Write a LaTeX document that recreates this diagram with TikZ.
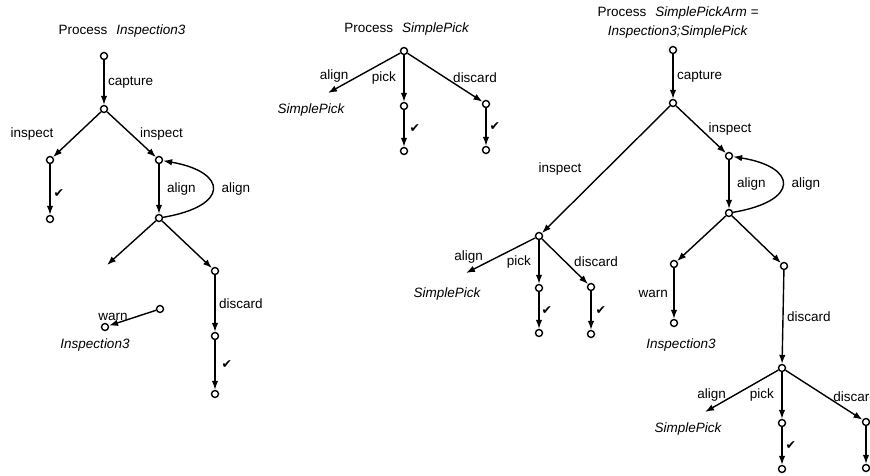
\documentclass[tikz,border=0pt]{standalone}
\usepackage{fontspec}
\setmainfont{Liberation Sans}
\newfontfamily\symfont{DejaVu Sans}
\usetikzlibrary{arrows.meta}

\newcommand{\chk}{{\symfont\fontsize{12.5}{12.5}\selectfont ✔}}

\begin{document}
\begin{tikzpicture}[x=1pt, y=-1pt]
    \tikzstyle{state} = [ shape=circle, draw=black, fill=white, line width=1.4pt, inner sep=0pt, minimum size=7pt ];
    \tikzstyle{arr} = [ -{Latex[length=9pt,width=6.5pt]}, line width=1.4pt ];
    \tikzstyle{lbl} = [ font=\fontsize{13.5}{16}\selectfont ];
    \tikzstyle{procname} = [ font=\fontsize{13.5}{16}\selectfont\itshape ];
    \tikzstyle{tick} = [ inner sep=1pt ];

    \useasboundingbox (0,0) rectangle (870,476);

    % process Inspection3
    \node (tInsp) [lbl] at (122,31) {Process\hspace{9pt}\textit{Inspection3}};
    \node (nInspA) [state] at (104,56) {};
    \node (nInspB) [state] at (104,109) {};
    \node (nInspC) [state] at (50,160) {};
    \node (nInspD) [state] at (159,160) {};
    \node (nInspE) [state] at (50,219) {};
    \node (nInspF) [state] at (159,218) {};
    \coordinate (cInspOpen) at (107,265);
    \node (nInspG) [state] at (215,271) {};
    \node (nInspH) [state] at (215,336) {};
    \node (nInspI) [state] at (215,394) {};
    \node (nInspWarnA) [state] at (160,309) {};
    \node (nInspWarnB) [state] at (105,327) {};
    \node (tInspName) [procname] at (95,345) {Inspection3};

    \draw [arr] (nInspA) -- (nInspB) node [lbl, midway, right] {capture};
    \draw [arr] (nInspB) -- (nInspC) node [lbl, midway, xshift=-45pt] {inspect};
    \draw [arr] (nInspB) -- (nInspD) node [lbl, midway, xshift=30pt] {inspect};
    \draw [arr] (nInspC) -- (nInspE) node [tick, midway, right=2pt, yshift=-4pt] {\chk};
    \draw [arr] (nInspD) -- (nInspF) node [lbl, midway, right=4pt] {align};
    \draw [arr] (nInspF) .. controls (230,206) and (228,172) .. (nInspD) node [lbl, midway, right=5pt] {align};
    \draw [arr] (nInspF) -- (cInspOpen);
    \draw [arr] (nInspF) -- (nInspG);
    \draw [arr] (nInspG) -- (nInspH) node [lbl, midway, right] {discard};
    \draw [arr] (nInspH) -- (nInspI) node [tick, midway, right=5pt] {\chk};
    \draw [arr] (nInspWarnA) -- (nInspWarnB) node [lbl, pos=0.85, xshift=-3pt, yshift=6pt] {warn};

    % process SimplePick
    \node (tPick) [lbl] at (407,29) {Process\hspace{9pt}\textit{SimplePick}};
    \node (nPickA) [state] at (404,51) {};
    \node (nPickB) [state] at (404,106) {};
    \node (nPickC) [state] at (404,151) {};
    \node (nPickD) [state] at (486,104) {};
    \node (nPickE) [state] at (486,150) {};
    \coordinate (cPickAlign) at (328,93);
    \node (tPickName) [procname] at (311,110) {SimplePick};

    \draw [arr] (nPickA) -- (cPickAlign) node [lbl, midway, xshift=-30pt, yshift=-3pt] {align};
    \draw [arr] (nPickA) -- (nPickB) node [lbl, midway, left=4pt] {pick};
    \draw [arr] (nPickB) -- (nPickC) node [tick, midway, right=4pt] {\chk};
    \draw [arr] (nPickA) -- (nPickD) node [lbl, midway, xshift=30pt] {discard};
    \draw [arr] (nPickD) -- (nPickE) node [tick, midway, right=2pt] {\chk};

    % process SimplePickArm
    \node (tArm) [lbl, align=center, font=\fontsize{13.5}{19}\selectfont] at (678,23) {Process\hspace{9pt}\textit{SimplePickArm =}\\\textit{Inspection3;SimplePick}};
    \node (nArmA) [state] at (673,50) {};
    \node (nArmB) [state] at (673,103) {};
    \node (nArmC) [state] at (539,236) {};
    \node (nArmD) [state] at (729,156) {};
    \node (nArmE) [state] at (729,213) {};
    \node (nArmF) [state] at (674,264) {};
    \node (nArmG) [state] at (784,266) {};
    \node (nArmH) [state] at (674,323) {};
    \node (nArmI) [state] at (782,368) {};
    \node (nArmJ) [state] at (782,423) {};
    \node (nArmK) [state] at (782,469) {};
    \node (nArmL) [state] at (866,422) {};
    \node (nArmM) [state] at (866,468) {};
    \node (nArmN) [state] at (539,288) {};
    \node (nArmO) [state] at (539,333) {};
    \node (nArmP) [state] at (591,287) {};
    \node (nArmQ) [state] at (591,334) {};
    \coordinate (cArmAlignA) at (466,273);
    \coordinate (cArmAlignB) at (705,412);
    \node (tArmInsp) [procname] at (681,345) {Inspection3};
    \node (tArmPickA) [procname] at (447,294) {SimplePick};
    \node (tArmPickB) [procname] at (688,429) {SimplePick};

    \draw [arr] (nArmA) -- (nArmB) node [lbl, midway, right] {capture};
    \draw [arr] (nArmB) -- (nArmC) node [lbl, midway, xshift=-46pt] {inspect};
    \draw [arr] (nArmB) -- (nArmD) node [lbl, midway, xshift=29pt] {inspect};
    \draw [arr] (nArmD) -- (nArmE) node [lbl, midway, right=4pt] {align};
    \draw [arr] (nArmE) .. controls (800,201) and (798,167) .. (nArmD) node [lbl, midway, right=5pt] {align};
    \draw [arr] (nArmE) -- (nArmF);
    \draw [arr] (nArmE) -- (nArmG);
    \draw [arr] (nArmF) -- (nArmH) node [lbl, midway, left=2pt] {warn};
    \draw [arr] (nArmG) -- (nArmI) node [lbl, midway, right] {discard};
    \draw [arr] (nArmI) -- (cArmAlignB) node [lbl, midway, xshift=-30pt, yshift=-4pt] {align};
    \draw [arr] (nArmI) -- (nArmJ) node [lbl, midway, left=4pt] {pick};
    \draw [arr] (nArmJ) -- (nArmK) node [tick, midway, right=2pt] {\chk};
    \draw [arr] (nArmI) -- (nArmL) node [lbl, midway, xshift=31pt, yshift=-2pt] {discard};
    \draw [arr] (nArmL) -- (nArmM) node [tick, midway, right=1pt] {\chk};
    \draw [arr] (nArmC) -- (cArmAlignA) node [lbl, midway, xshift=-32pt, yshift=-2pt] {align};
    \draw [arr] (nArmC) -- (nArmN) node [lbl, midway, left=4pt] {pick};
    \draw [arr] (nArmN) -- (nArmO) node [tick, midway, right=1pt] {\chk};
    \draw [arr] (nArmC) -- (nArmP) node [lbl, midway, xshift=31pt] {discard};
    \draw [arr] (nArmP) -- (nArmQ) node [tick, midway, right=3pt] {\chk};
\end{tikzpicture}
\end{document}
